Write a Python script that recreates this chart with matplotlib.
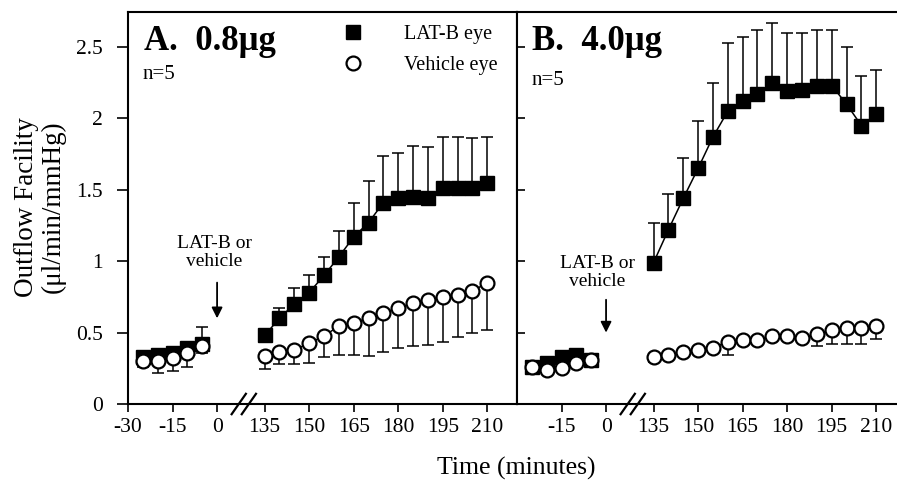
import numpy as np
import matplotlib
matplotlib.use('Agg')
import matplotlib.pyplot as plt
from matplotlib.lines import Line2D
import matplotlib.transforms as mtransforms

plt.rcParams['font.family'] = ['Liberation Serif', 'DejaVu Serif']

# 时间点 (分钟)
pre_t = np.array([-25, -20, -15, -10, -5])
post_t = np.array([135, 140, 145, 150, 155, 160, 165, 170, 175, 180, 185, 190, 195, 200, 205, 210])
tick_t = [-30, -15, 0, 135, 150, 165, 180, 195, 210]

# A. 0.8ug
a_lat_pre = [0.33, 0.34, 0.36, 0.39, 0.42]
a_lat_pre_err = [0.02, 0.02, 0.02, 0.03, 0.12]
a_veh_pre = [0.30, 0.30, 0.32, 0.355, 0.405]
a_veh_pre_err = [0.04, 0.08, 0.09, 0.095, 0.045]
a_lat_post = [0.48, 0.60, 0.70, 0.78, 0.90, 1.03, 1.17, 1.27, 1.41, 1.44, 1.45, 1.44, 1.51, 1.51, 1.51, 1.55]
a_lat_post_err = [0.03, 0.07, 0.11, 0.12, 0.13, 0.18, 0.24, 0.29, 0.33, 0.32, 0.36, 0.36, 0.36, 0.36, 0.35, 0.32]
a_veh_post = [0.336, 0.366, 0.378, 0.425, 0.476, 0.546, 0.569, 0.60, 0.64, 0.67, 0.71, 0.73, 0.75, 0.76, 0.79, 0.85]
a_veh_post_err = [0.093, 0.088, 0.10, 0.14, 0.146, 0.203, 0.226, 0.264, 0.274, 0.276, 0.304, 0.32, 0.314, 0.293, 0.29, 0.332]

# B. 4.0ug
b_lat_pre = [0.26, 0.29, 0.33, 0.34, 0.31]
b_lat_pre_err = [0.02, 0.02, 0.02, 0.02, 0.02]
b_veh_pre = [0.26, 0.24, 0.255, 0.29, 0.31]
b_veh_pre_err = [0.02, 0.02, 0.02, 0.02, 0.02]
b_lat_post = [0.99, 1.22, 1.44, 1.65, 1.87, 2.05, 2.12, 2.17, 2.25, 2.19, 2.20, 2.23, 2.23, 2.10, 1.95, 2.03]
b_lat_post_err = [0.28, 0.25, 0.28, 0.33, 0.38, 0.48, 0.45, 0.45, 0.42, 0.41, 0.40, 0.39, 0.39, 0.40, 0.35, 0.31]
b_veh_post = [0.327, 0.343, 0.366, 0.378, 0.394, 0.436, 0.448, 0.448, 0.476, 0.476, 0.464, 0.488, 0.518, 0.530, 0.530, 0.546]
b_veh_post_err = [0.03, 0.03, 0.03, 0.03, 0.03, 0.093, 0.03, 0.03, 0.03, 0.03, 0.03, 0.08, 0.10, 0.11, 0.11, 0.093]


def brk(t):
    """把时间映射到断轴坐标 (0 和 135 之间压缩)"""
    t = np.asarray(t, dtype=float)
    return np.where(t <= 0, t, t - 119)


def draw_series(ax, t, y, err, filled):
    x = brk(t)
    y = np.asarray(y)
    err = np.asarray(err)
    zeros = np.zeros_like(err)
    if filled:
        yerr = [zeros, err]
        mk = dict(marker='s', mfc='black', mec='black', ms=9.5, zorder=3)
    else:
        yerr = [err, zeros]
        mk = dict(marker='o', mfc='white', mec='black', ms=10, mew=1.6, zorder=4)
    ax.errorbar(x, y, yerr=yerr, fmt='none', ecolor='black', elinewidth=1.1,
                capsize=4.5, capthick=1.1, zorder=2)
    ax.plot(x, y, color='black', lw=1.1, **mk)


def draw_panel(ax, data, title, xright, tick_list, text_y, arrow_y, text_x, n_y):
    (lat_pre, lat_pre_err, veh_pre, veh_pre_err,
     lat_post, lat_post_err, veh_post, veh_post_err) = data
    draw_series(ax, pre_t, lat_pre, lat_pre_err, True)
    draw_series(ax, pre_t, veh_pre, veh_pre_err, False)
    draw_series(ax, post_t, lat_post, lat_post_err, True)
    draw_series(ax, post_t, veh_post, veh_post_err, False)

    ax.set_xlim(-30, xright)
    ax.set_ylim(0, 2.745)
    ax.set_xticks(brk(tick_list))
    ax.set_xticklabels([str(t) for t in tick_list])
    ax.tick_params(axis='x', direction='out', length=6, width=1.2, labelsize=15.5, pad=4)
    for s in ax.spines.values():
        s.set_linewidth(1.5)

    # 断轴符号 //
    trans = mtransforms.blended_transform_factory(ax.transData, ax.transAxes)
    for dx in (-1.7, 1.7):
        ax.plot([9 + dx - 2.4, 9 + dx + 2.4], [-0.026, 0.026], color='black', lw=1.6,
                transform=trans, clip_on=False, zorder=6)

    ax.text(0.04, 0.903, title, transform=ax.transAxes, fontsize=25, fontweight='bold',
            va='baseline', ha='left')
    ax.text(0.037, n_y, 'n=5', transform=ax.transAxes, fontsize=15, va='baseline', ha='left')

    ax.text(text_x, text_y, 'LAT-B or\nvehicle', ha='center', va='center', fontsize=14,
            linespacing=1.1)
    ax.annotate('', xy=(0, arrow_y[1]), xytext=(0, arrow_y[0]),
                arrowprops=dict(arrowstyle='-|>', color='black', lw=1.3, mutation_scale=16,
                                shrinkA=0, shrinkB=0))


fig = plt.figure(figsize=(8.97, 4.88), dpi=100)
W, H = 897.0, 488.0
axA = fig.add_axes([128 / W, 84 / H, 389 / W, 392 / H])
axB = fig.add_axes([517 / W, 84 / H, 380 / W, 392 / H])

draw_panel(axA, (a_lat_pre, a_lat_pre_err, a_veh_pre, a_veh_pre_err,
                 a_lat_post, a_lat_post_err, a_veh_post, a_veh_post_err),
           'A.  0.8μg', 101, tick_t, 1.06, (0.85, 0.60), -1, 0.83)
draw_panel(axB, (b_lat_pre, b_lat_pre_err, b_veh_pre, b_veh_pre_err,
                 b_lat_post, b_lat_post_err, b_veh_post, b_veh_post_err),
           'B.  4.0μg', 98, tick_t[1:], 0.92, (0.73, 0.50), -3, 0.815)

# y 轴
yt = [0, 0.5, 1, 1.5, 2, 2.5]
axA.set_yticks(yt)
axA.set_yticklabels(['0', '0.5', '1', '1.5', '2', '2.5'])
axA.tick_params(axis='y', direction='out', length=8, width=1.2, labelsize=15.5, pad=10)
axB.set_yticks(yt)
axB.set_yticklabels([])
axB.tick_params(axis='y', direction='in', length=6, width=1.2)
axB.spines['right'].set_visible(False)

# 图例
handles = [Line2D([], [], ls='none', marker='s', ms=9.5, mfc='black', mec='black'),
           Line2D([], [], ls='none', marker='o', ms=10, mfc='white', mec='black', mew=1.6)]
axA.legend(handles, ['LAT-B eye', 'Vehicle eye'], loc='upper left',
           bbox_to_anchor=(0.555, 0.968), frameon=False, fontsize=14.5,
           handlelength=0.9, handletextpad=2.1, labelspacing=0.62,
           borderpad=0, borderaxespad=0)

fig.text(40 / W, 1 - 207 / H, 'Outflow Facility\n(μl/min/mmHg)', rotation=90,
         ha='center', va='center', fontsize=19.5, multialignment='center', linespacing=1.05)
fig.text(516 / W, 1 - 468 / H, 'Time (minutes)', ha='center', va='center', fontsize=18.5)

fig.savefig('out.png', dpi=100)
